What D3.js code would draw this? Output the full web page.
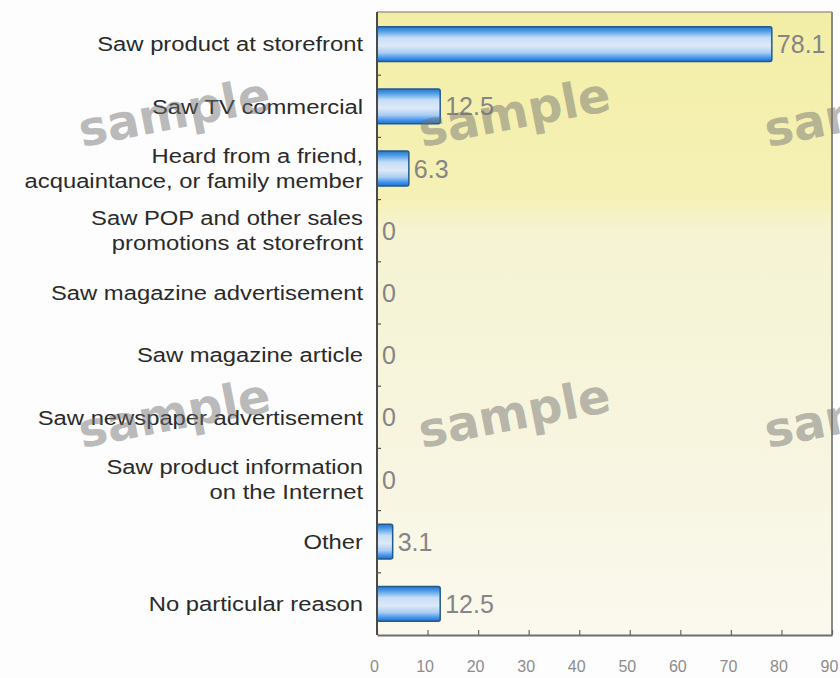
<!DOCTYPE html>
<html>
<head>
<meta charset="utf-8">
<script src="https://cdn.jsdelivr.net/npm/d3@7"></script>
<style>
  html, body { margin: 0; padding: 0; background: #fdfdfd; }
  svg { display: block; }
</style>
</head>
<body>
<svg id="chart" width="840" height="678"></svg>
<script>
// Reasons for purchase (%)
const categories = [
  ["Saw product at storefront"],
  ["Saw TV commercial"],
  ["Heard from a friend,", "acquaintance, or family member"],
  ["Saw POP and other sales", "promotions at storefront"],
  ["Saw magazine advertisement"],
  ["Saw magazine article"],
  ["Saw newspaper advertisement"],
  ["Saw product information", "on the Internet"],
  ["Other"],
  ["No particular reason"]
];
const values = [78.1, 12.5, 6.3, 0, 0, 0, 0, 0, 3.1, 12.5];
const xTicks = [0, 10, 20, 30, 40, 50, 60, 70, 80, 90];
const watermarkText = "sample";

const svg = d3.select("#chart");
const plot = { left: 377, right: 832, top: 13, bottom: 635 };

const keys = categories.map(c => c.join(" "));
const x = d3.scaleLinear().domain([0, 90]).range([plot.left, plot.right]);
const y = d3.scaleBand().domain(keys).range([plot.top, plot.bottom])
  .paddingInner(0.44).paddingOuter(0.22);

const defs = svg.append("defs");

// Plot background: warm yellow at the top fading to pale cream
const bg = defs.append("linearGradient").attr("id", "bgGrad")
  .attr("x1", 0).attr("y1", 0).attr("x2", 0).attr("y2", 1);
[[0, "#f3eea6"], [0.3, "#f5f1b6"], [0.35, "#f5f3d2"], [0.7, "#f7f5df"], [1, "#fbf9ee"]]
  .forEach(([o, c]) => bg.append("stop").attr("offset", o).attr("stop-color", c));

// Bar fill: glossy blue tube
const barGrad = defs.append("linearGradient").attr("id", "barGrad")
  .attr("x1", 0).attr("y1", 0).attr("x2", 0).attr("y2", 1);
[[0, "#2b74c4"], [0.12, "#4b9be6"], [0.32, "#c6def6"], [0.55, "#dde9f8"],
 [0.75, "#a9cdf3"], [0.9, "#3f92ec"], [1, "#2670c2"]]
  .forEach(([o, c]) => barGrad.append("stop").attr("offset", o).attr("stop-color", c));

svg.append("rect")
  .attr("x", plot.left).attr("y", plot.top - 1)
  .attr("width", plot.right - plot.left).attr("height", plot.bottom - plot.top + 1)
  .attr("fill", "url(#bgGrad)");

// Frame: top and right borders
svg.append("line").attr("x1", plot.left).attr("x2", plot.right)
  .attr("y1", plot.top - 1).attr("y2", plot.top - 1)
  .attr("stroke", "#a09c86").attr("stroke-width", 1.5);
svg.append("line").attr("x1", plot.right).attr("x2", plot.right)
  .attr("y1", plot.top - 1).attr("y2", plot.bottom)
  .attr("stroke", "#8a8a84").attr("stroke-width", 2);

// Bars
svg.append("g").selectAll("rect").data(values).join("rect")
  .attr("x", x(0))
  .attr("y", (d, i) => y(keys[i]))
  .attr("width", d => x(d) - x(0))
  .attr("height", y.bandwidth())
  .attr("rx", 2)
  .attr("fill", "url(#barGrad)")
  .attr("stroke", "#235a8e")
  .attr("stroke-width", d => d > 0 ? 1.5 : 0);

// Value labels
svg.append("g").selectAll("text").data(values).join("text")
  .attr("x", d => x(d) + 5)
  .attr("y", (d, i) => y(keys[i]) + y.bandwidth() / 2)
  .attr("dy", "0.36em")
  .attr("font-family", "'Liberation Sans', Arial, sans-serif")
  .attr("font-size", 25)
  .attr("fill", "#858585")
  .text(d => d3.format("~")(d));

// Bottom axis with ticks pointing into the plot
const xAxis = d3.axisBottom(x).tickValues(xTicks).tickSizeInner(-5).tickSizeOuter(0).tickPadding(26);
const gx = svg.append("g").attr("transform", `translate(0,${plot.bottom})`).call(xAxis);
gx.select(".domain").attr("stroke", "#6e6e6e").attr("stroke-width", 2);
gx.selectAll(".tick line").attr("stroke", "#666").attr("stroke-width", 1.2);
gx.selectAll(".tick text")
  .attr("dx", -3)
  .attr("font-family", "'Liberation Sans', Arial, sans-serif")
  .attr("font-size", 16).attr("fill", "#8c8c8c");

// Left axis line with ticks between categories
svg.append("line").attr("x1", plot.left).attr("x2", plot.left)
  .attr("y1", plot.top - 1).attr("y2", plot.bottom)
  .attr("stroke", "#4a4a4a").attr("stroke-width", 2);
const step = y.step();
svg.append("g").selectAll("line").data(keys.slice(0, -1)).join("line")
  .attr("x1", plot.left).attr("x2", plot.left + 4)
  .attr("y1", k => y(k) + y.bandwidth() + (step - y.bandwidth()) / 2)
  .attr("y2", k => y(k) + y.bandwidth() + (step - y.bandwidth()) / 2)
  .attr("stroke", "#555").attr("stroke-width", 1.2);

// Category labels
const lab = svg.append("g").selectAll("text").data(categories).join("text")
  .attr("transform", (d, i) => `translate(363,${y(keys[i]) + y.bandwidth() / 2}) scale(1.19,1)`)
  .attr("text-anchor", "end")
  .attr("font-family", "'Liberation Sans', Arial, sans-serif")
  .attr("font-size", 20)
  .attr("fill", "#2a2a2a");
lab.each(function(lines) {
  const t = d3.select(this);
  const lh = 25;
  const first = -(lines.length - 1) * lh / 2;
  lines.forEach((ln, j) => {
    t.append("tspan").attr("x", 0).attr("y", first + j * lh).attr("dy", "0.36em").text(ln);
  });
});

// Watermark
const wmCols = [82, 422, 768];
const wmRows = [147, 448];
const wm = svg.append("g").attr("pointer-events", "none");
wmRows.forEach(ry => wmCols.forEach(cx => {
  wm.append("text")
    .attr("transform", `translate(${cx},${ry}) rotate(-11)`)
    .attr("font-family", "'DejaVu Sans', sans-serif")
    .attr("font-weight", "bold")
    .attr("font-size", 48)
    .attr("fill", "#707070")
    .attr("fill-opacity", 0.48)
    .text(watermarkText);
}));
</script>
</body>
</html>
